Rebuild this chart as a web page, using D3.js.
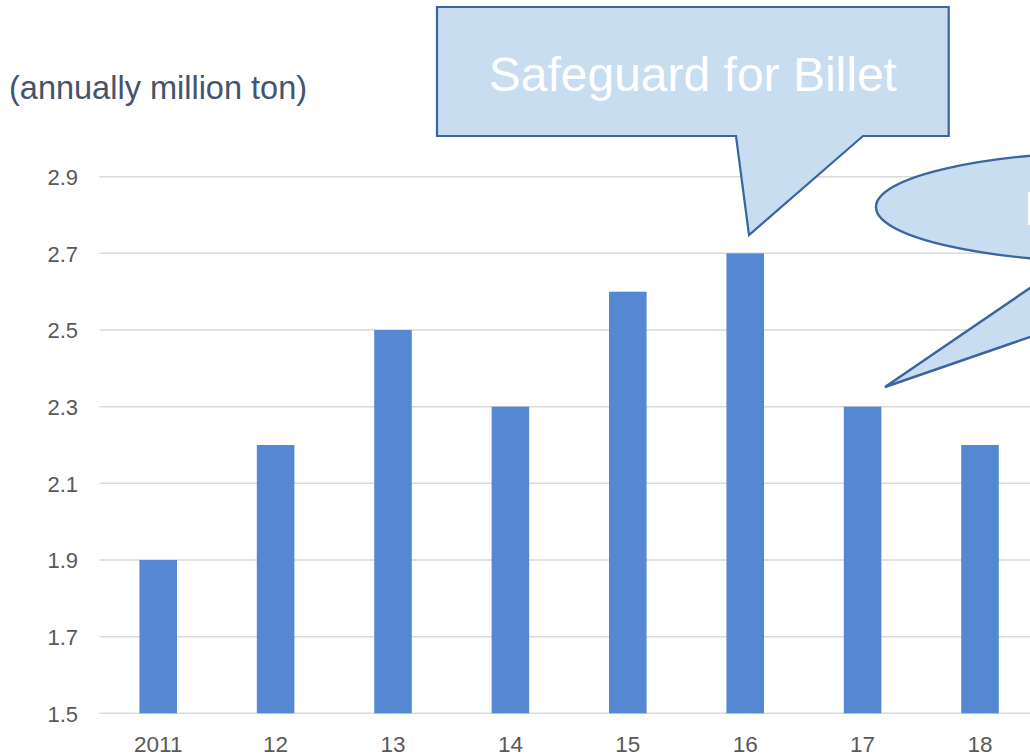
<!DOCTYPE html>
<html>
<head>
<meta charset="utf-8">
<script src="https://cdn.jsdelivr.net/npm/d3@7/dist/d3.min.js"></script>
<style>
  html, body { margin: 0; padding: 0; background: #fff; }
  svg { display: block; font-family: "Liberation Sans", Arial, sans-serif; }
</style>
</head>
<body>
<svg id="chart" width="1030" height="756"></svg>
<script>
// ---- data ----
const categories = ["2011", "12", "13", "14", "15", "16", "17", "18"];
const values = [1.9, 2.2, 2.5, 2.3, 2.6, 2.7, 2.3, 2.2];
const yTicks = [1.5, 1.7, 1.9, 2.1, 2.3, 2.5, 2.7, 2.9];
const unitLabel = "(annually million ton)";
const callout1Text = "Safeguard for Billet";
const callout2Text = "Long Products";

// ---- layout ----
const W = 1030, H = 756;
const plotLeft = 99.5, step = 117.4;
const svg = d3.select("#chart");

const x = d3.scaleBand()
  .domain(categories)
  .range([plotLeft, plotLeft + step * categories.length])
  .paddingInner(0.68)
  .paddingOuter(0.34);

const y = d3.scaleLinear()
  .domain([1.5, 2.9])
  .range([713.3, 176.7]);

// gridlines
svg.append("g")
  .selectAll("line")
  .data(yTicks)
  .join("line")
  .attr("x1", plotLeft)
  .attr("x2", W)
  .attr("y1", d => y(d))
  .attr("y2", d => y(d))
  .attr("stroke", "#d9d9d9")
  .attr("stroke-width", 1.5);

// y tick labels
const yAxis = d3.axisLeft(y).tickValues(yTicks).tickFormat(d3.format(".1f")).tickSize(0).tickPadding(0);
const gy = svg.append("g").attr("transform", "translate(78,0)").call(yAxis);
gy.select(".domain").remove();
gy.selectAll("text")
  .attr("font-size", 22)
  .attr("font-family", "Liberation Sans, Arial, sans-serif")
  .attr("fill", "#595959")
  .attr("dy", "0.36em");

// bars
svg.append("g")
  .selectAll("rect")
  .data(values)
  .join("rect")
  .attr("x", (d, i) => x(categories[i]))
  .attr("width", x.bandwidth())
  .attr("y", d => y(d))
  .attr("height", d => y(1.5) - y(d))
  .attr("fill", "#5588d2");

// x labels
const xAxis = d3.axisBottom(x).tickSize(0).tickPadding(0);
const gx = svg.append("g").attr("transform", "translate(0,752)").call(xAxis);
gx.select(".domain").remove();
gx.selectAll("text")
  .attr("font-size", 22.5)
  .attr("font-family", "Liberation Sans, Arial, sans-serif")
  .attr("fill", "#595959")
  .attr("dy", "0");

// unit label
svg.append("text")
  .attr("x", 9)
  .attr("y", 99)
  .attr("font-size", 32.5)
  .attr("fill", "#44546a")
  .text(unitLabel);

// callout 1: rectangle with wedge tail
const fill = "#c8ddf0", stroke = "#3a65a0";
const c1 = { x0: 437, x1: 948.7, y0: 7, y1: 136, tailL: 736, tailR: 863, tipX: 749, tipY: 235 };
svg.append("path")
  .attr("d", `M${c1.x0},${c1.y0} H${c1.x1} V${c1.y1} H${c1.tailR} L${c1.tipX},${c1.tipY} L${c1.tailL},${c1.y1} H${c1.x0} Z`)
  .attr("fill", fill)
  .attr("stroke", stroke)
  .attr("stroke-width", 2.2)
  .attr("stroke-linejoin", "miter");
svg.append("text")
  .attr("x", (c1.x0 + c1.x1) / 2)
  .attr("y", 91)
  .attr("text-anchor", "middle")
  .attr("font-size", 48)
  .attr("fill", "#ffffff")
  .text(callout1Text);

// callout 2: ellipse with wedge tail (mostly beyond the right edge)
const e = { cx: 1121, cy: 207, rx: 245, ry: 55 };
const tip2 = { x: 885, y: 387 };
const tail2 = [[tip2.x, tip2.y], [1130, 219.7], [1330, 233.5]];
const defs = svg.append("defs");
defs.append("clipPath").attr("id", "outsideEllipse")
  .append("path")
  .attr("clip-rule", "evenodd")
  .attr("d", `M0,0 H2000 V1000 H0 Z M${e.cx - e.rx},${e.cy} a${e.rx},${e.ry} 0 1,0 ${2 * e.rx},0 a${e.rx},${e.ry} 0 1,0 ${-2 * e.rx},0 Z`);
svg.append("ellipse")
  .attr("cx", e.cx).attr("cy", e.cy).attr("rx", e.rx).attr("ry", e.ry)
  .attr("fill", fill).attr("stroke", stroke).attr("stroke-width", 2.4);
svg.append("path")
  .attr("d", "M" + tail2.map(p => p.join(",")).join("L") + "Z")
  .attr("clip-path", "url(#outsideEllipse)")
  .attr("fill", fill).attr("stroke", stroke).attr("stroke-width", 2.4)
  .attr("stroke-linejoin", "miter");
svg.append("text")
  .attr("x", 1024)
  .attr("y", 225)
  .attr("font-size", 48)
  .attr("fill", "#ffffff")
  .text(callout2Text);
</script>
</body>
</html>
